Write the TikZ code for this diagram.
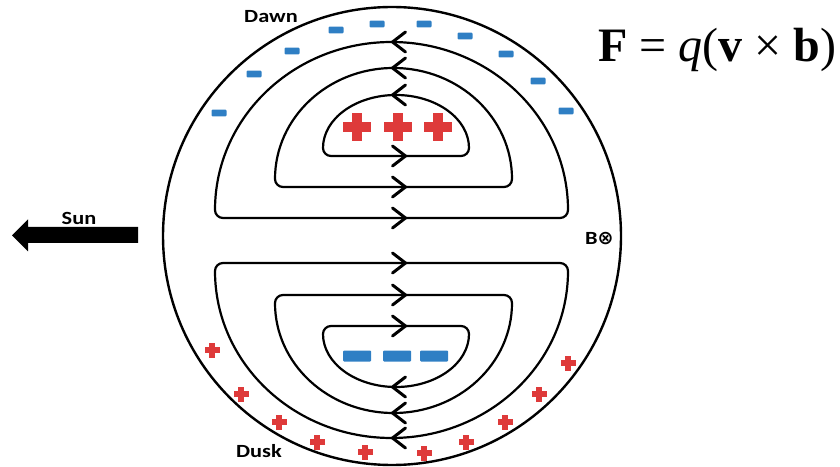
\documentclass[tikz,border=0pt]{standalone}
\usepackage{fontspec}
\newfontfamily\labelfont[FakeStretch=1.2]{Carlito}
\newfontfamily\symfont{DejaVu Sans}
\newfontfamily\eqfont{Liberation Serif}
\definecolor{chargeblue}{RGB}{47,127,196}
\definecolor{chargered}{RGB}{222,58,58}
\tikzset{
  loopline/.style={line width=2.2pt, line join=round, line cap=round},
  ringline/.style={line width=2.4pt},
  chev/.style={line width=3pt, line join=round, line cap=round},
  lbl/.style={font=\labelfont\bfseries\fontsize{18.6}{20}\selectfont, inner sep=0pt},
  negsmall/.pic={\fill[chargeblue, rounded corners=1pt] (-7.5,-3.4) rectangle (7.5,3.4);},
  negbig/.pic={\fill[chargeblue, rounded corners=1pt] (-14,-5.5) rectangle (14,5.5);},
  possmall/.pic={\fill[chargered] (-7.5,-2.7) rectangle (7.5,2.7);
                 \fill[chargered] (-2.7,-7.5) rectangle (2.7,7.5);},
  posbig/.pic={\fill[chargered] (-14,-5) rectangle (14,5);
               \fill[chargered] (-5,-14) rectangle (5,14);},
  curright/.pic={\draw[chev] (-6.5,10) -- (6.5,0) -- (-6.5,-10);},
  curleft/.pic={\draw[chev] (6.5,10) -- (-6.5,0) -- (6.5,-10);},
}
% half loop: #1 centre x, #2 base y, #3 half width, #4 height,
% #5 = 1 for a loop bulging upward, -1 for one bulging downward
\newcommand\halfloop[5]{%
  \pgfmathsetmacro\hlh{#4-8}%
  \draw[loopline]
    (#1-#3, #2+#5*8)
    arc[start angle=180, end angle=180+#5*90, radius=8]
    -- (#1+#3-8, #2)
    arc[start angle=180+#5*90, end angle=180+#5*180, radius=8]
    arc[start angle=0, end angle=#5*180, x radius=#3, y radius=\hlh];}
\begin{document}
\begin{tikzpicture}[x=1pt, y=1pt]
\useasboundingbox (0,0) rectangle (840,466);

% magnetosphere boundary
\draw[ringline] (392,230) circle[radius=229];

% upper (dawn) current loops
\halfloop{391.5}{248}{176.5}{176}{1}
\halfloop{393.5}{279}{118.5}{119}{1}
\halfloop{396}{310}{73}{61}{1}
% lower (dusk) current loops
\halfloop{391.5}{203}{176.5}{175}{-1}
\halfloop{393.5}{171}{118.5}{118}{-1}
\halfloop{396}{140}{73}{61}{-1}

% current directions
\pic at (399,424) {curleft};
\pic at (399,398) {curleft};
\pic at (399,371) {curleft};
\pic at (399,310) {curright};
\pic at (399,279) {curright};
\pic at (399,248) {curright};
\pic at (399,203) {curright};
\pic at (399,171) {curright};
\pic at (399,140) {curright};
\pic at (399,79) {curleft};
\pic at (399,53) {curleft};
\pic at (399,28) {curleft};

% charges near the dawn side
\foreach \cx/\cy in {219/353, 254/392, 292/415, 336/436, 377/442, 424/442, 465/430, 506/412, 538/385, 566/355}
  \pic at (\cx,\cy) {negsmall};
\foreach \cx in {357, 398, 438}
  \pic at (\cx,339) {posbig};

% charges near the dusk side
\foreach \cx in {357, 397, 434}
  \pic at (\cx,110) {negbig};
\foreach \cx/\cy in {212/116, 241/72, 279/44, 317/24, 365/14, 424/13, 466/24, 505/44, 539/72, 568/103}
  \pic at (\cx,\cy) {possmall};

% labels
\node[lbl, anchor=base] (dawn) at (271,443) {Dawn};
\node[lbl, anchor=base] (dusk) at (259,9) {Dusk};
\node[lbl, anchor=base] (sun) at (79,241) {Sun};
\node[lbl, anchor=base west] (bfield) at (585,221) {B{\symfont\fontsize{19}{20}\selectfont ⊗}};

% direction of the Sun
\fill (12,230.5) -- (28,246.5) -- (28,239) -- (138,239) -- (138,223) -- (28,223) -- (28,214.5) -- cycle;

% force law
\node[anchor=base west, inner sep=0pt, font=\eqfont\fontsize{48}{50}\selectfont] (force) at (598,404)
  {\textbf{F} = \textit{q}(\textbf{v} × \textbf{b})};
\end{tikzpicture}
\end{document}
